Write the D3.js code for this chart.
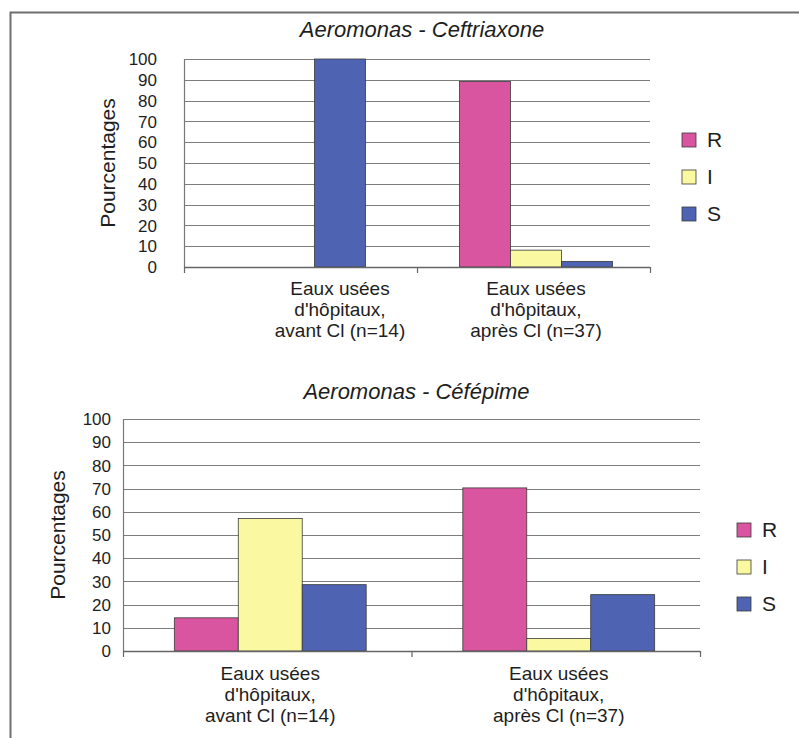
<!DOCTYPE html>
<html>
<head>
<meta charset="utf-8">
<script src="https://cdn.jsdelivr.net/npm/d3@7"></script>
<style>
  html, body { margin: 0; padding: 0; background: #fff; }
  svg { display: block; }
  text { font-family: "Liberation Sans", Arial, sans-serif; fill: #1e1e1e; }
</style>
</head>
<body>
<svg id="fig" width="799" height="738"></svg>
<script>
// Categories (sample origin) shared by both panels
const categories = [
  ["Eaux usées", "d'hôpitaux,", "avant Cl (n=14)"],
  ["Eaux usées", "d'hôpitaux,", "après Cl (n=37)"]
];
const seriesKeys = ["R", "I", "S"];
const seriesColors = ["#d9559f", "#fbf8a2", "#4e64b3"];
const yTicks = [0, 10, 20, 30, 40, 50, 60, 70, 80, 90, 100];

// Percentages R / I / S per category
const ceftriaxoneR = [0, 89.2];
const ceftriaxoneI = [0, 8.1];
const ceftriaxoneS = [100, 2.7];

const cefepimeR = [14.3, 70.3];
const cefepimeI = [57.1, 5.4];
const cefepimeS = [28.6, 24.3];

const titles = ["Aeromonas - Ceftriaxone", "Aeromonas - Céfépime"];
const yTitle = "Pourcentages";

const svg = d3.select("#fig");

// page frame
svg.append("path")
  .attr("d", "M10.5,738 V12.5 H799")
  .attr("fill", "none").attr("stroke", "#6f6f6f").attr("stroke-width", 2);

const color = d3.scaleOrdinal().domain(seriesKeys).range(seriesColors);

function panel(cfg) {
  const { title, R, I, S, plot, band, titleY, yTitleX, labelY, legend, fs } = cfg;
  const g = svg.append("g");
  const rows = categories.map((c, i) => ({ cat: i, R: R[i], I: I[i], S: S[i] }));

  const y = d3.scaleLinear().domain([0, 100]).range([plot.y1, plot.y0]);
  const x = d3.scaleBand().domain(d3.range(categories.length))
    .range(band.range).paddingInner(band.pad).paddingOuter(band.pad / 2);
  const barW = x.bandwidth() / seriesKeys.length;

  // gridlines
  g.append("g").selectAll("line").data(yTicks.filter(t => t > 0)).join("line")
    .attr("x1", plot.x0).attr("x2", plot.x1)
    .attr("y1", d => Math.round(y(d)) + 0.5).attr("y2", d => Math.round(y(d)) + 0.5)
    .attr("stroke", "#7d7d7d").attr("stroke-width", 1.2);

  // y axis labels
  g.append("g").selectAll("text").data(yTicks).join("text")
    .attr("x", plot.x0 - band.labelGap).attr("y", d => y(d))
    .attr("dy", "0.36em").attr("text-anchor", "end")
    .attr("font-size", fs.tick).text(d => d);

  // bars: zero-valued series are left out and the remaining bars sit centred in the group
  rows.forEach(row => {
    const keys = seriesKeys.filter(k => row[k] > 0);
    const cx = x(row.cat) + x.bandwidth() / 2;
    const inner = d3.scaleBand().domain(keys)
      .range([cx - keys.length * barW / 2, cx + keys.length * barW / 2]);
    g.append("g").selectAll("rect").data(keys).join("rect")
      .attr("x", k => inner(k)).attr("width", inner.bandwidth())
      .attr("y", k => y(row[k])).attr("height", k => y(0) - y(row[k]))
      .attr("fill", k => color(k))
      .attr("stroke", "#3a3a3a").attr("stroke-width", 0.8);
  });

  // axes
  g.append("line").attr("x1", plot.x0 + 0.5).attr("x2", plot.x0 + 0.5)
    .attr("y1", plot.y0).attr("y2", plot.y1)
    .attr("stroke", "#777").attr("stroke-width", 1.2);
  g.append("line").attr("x1", plot.x0).attr("x2", plot.x1)
    .attr("y1", Math.round(y(0)) + 0.5).attr("y2", Math.round(y(0)) + 0.5)
    .attr("stroke", "#666").attr("stroke-width", 1.4);
  const tickXs = [plot.x0, (plot.x0 + plot.x1) / 2, plot.x1];
  g.append("g").selectAll("line").data(tickXs).join("line")
    .attr("x1", d => d + 0.5).attr("x2", d => d + 0.5)
    .attr("y1", y(0)).attr("y2", y(0) + 6)
    .attr("stroke", "#666").attr("stroke-width", 1.2);

  // category labels
  categories.forEach((lines, i) => {
    const t = g.append("text").attr("text-anchor", "middle").attr("font-size", fs.cat);
    lines.forEach((ln, j) => {
      t.append("tspan").attr("x", x(i) + x.bandwidth() / 2 + band.labelShift)
        .attr("y", labelY + j * 21).text(ln);
    });
  });

  // title
  g.append("text").attr("x", (plot.x0 + plot.x1) / 2 + 5).attr("y", titleY)
    .attr("text-anchor", "middle").attr("font-size", fs.title)
    .attr("font-style", "italic").text(title);

  // y title
  g.append("text")
    .attr("transform", `translate(${yTitleX},${(plot.y0 + plot.y1) / 2}) rotate(-90)`)
    .attr("text-anchor", "middle").attr("dy", "0.35em")
    .attr("font-size", fs.ytitle).text(yTitle);

  // legend
  const lg = g.append("g").attr("transform", `translate(${legend.x},${legend.y})`);
  seriesKeys.forEach((k, i) => {
    lg.append("rect").attr("x", 0).attr("y", i * legend.step - 13)
      .attr("width", 14).attr("height", 14)
      .attr("fill", color(k)).attr("stroke", "#3a3a3a").attr("stroke-width", 0.8);
    lg.append("text").attr("x", 25).attr("y", i * legend.step + 1)
      .attr("font-size", fs.legend).text(k);
  });
}

panel({
  title: titles[0], R: ceftriaxoneR, I: ceftriaxoneI, S: ceftriaxoneS,
  plot: { x0: 184, x1: 650, y0: 59, y1: 267 },
  band: { range: [242, 634], pad: 0.22, labelGap: 27, labelShift: 0 },
  titleY: 37, yTitleX: 108, labelY: 295,
  legend: { x: 682, y: 146, step: 37 },
  fs: { tick: 17, cat: 19, title: 22, ytitle: 21, legend: 21 }
});

panel({
  title: titles[1], R: cefepimeR, I: cefepimeI, S: cefepimeS,
  plot: { x0: 123, x1: 700, y0: 419, y1: 651 },
  band: { range: [126, 703], pad: 0.335, labelGap: 12, labelShift: 0 },
  titleY: 399, yTitleX: 58, labelY: 680,
  legend: { x: 737, y: 536, step: 37 },
  fs: { tick: 17, cat: 19, title: 22, ytitle: 21, legend: 21 }
});
</script>
</body>
</html>
